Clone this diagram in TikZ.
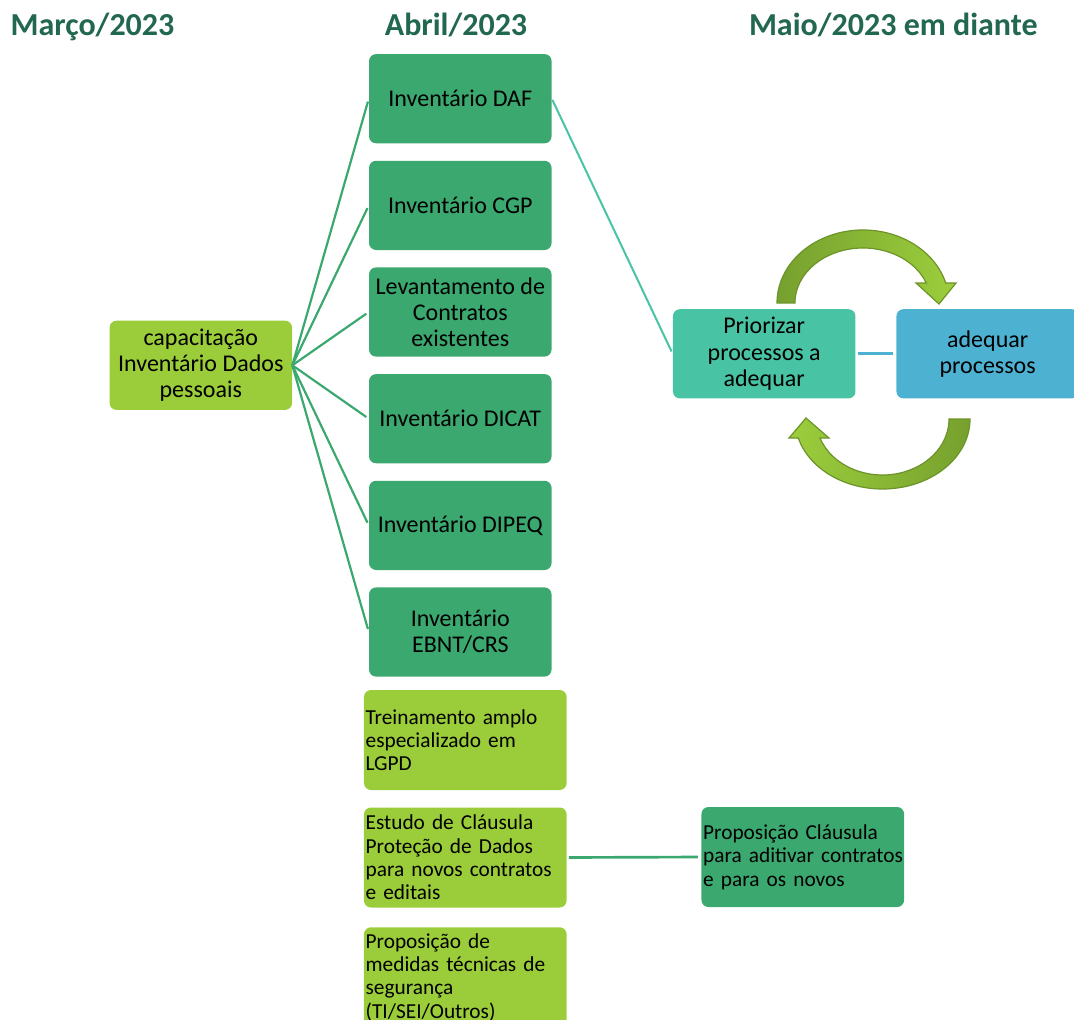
\documentclass[tikz,border=0pt]{standalone}
\usepackage{fontspec}
\setmainfont{Carlito}
\hfuzz=30pt
\definecolor{hdr}{RGB}{34,103,79}
\definecolor{dkgreen}{RGB}{59,168,111}
\definecolor{ltgreen}{RGB}{155,204,58}
\definecolor{tealbox}{RGB}{72,195,164}
\definecolor{bluebox}{RGB}{77,178,210}
\definecolor{arrowdark}{RGB}{118,160,46}
\definecolor{arrowlight}{RGB}{156,206,60}
\definecolor{arrowedge}{RGB}{108,148,40}
\begin{document}
\begin{tikzpicture}[x=0.75pt,y=0.75pt,
  header/.style={anchor=base, text=hdr, font=\bfseries\fontsize{24}{28}\selectfont},
  base/.style={rounded corners=5.25pt, inner sep=0pt, text=black},
  bigbox/.style={base, minimum width=136.9pt, minimum height=66.9pt, align=center,
                 font=\fontsize{18}{19.6}\selectfont},
  smallbox/.style={base, minimum height=75pt, text width=149.5pt, inner xsep=1.25pt,
                   align=left, font=\fontsize{16}{17.5}\selectfont},
  spoke/.style={draw=dkgreen, line width=1.65pt, shorten >=2.25pt},
  cyclearrow/.style={draw=arrowedge, line width=0.9pt}
]
\useasboundingbox (0,0) rectangle (1074,-1020);
\clip (0,0) rectangle (1074,-1020);

% column headers
\node[header] (hdrA) at (92.5,-35.7) {Março/2023};
\node[header] (hdrB) at (456,-35.7) {Abril/2023};
\node[header] (hdrC) at (893.3,-35.7) {Maio/2023 em diante};

% first step
\node[bigbox, fill=ltgreen] (cap) at (200.8,-365.3) {capacitação\\Inventário Dados\\pessoais};

% inventories
\node[bigbox, fill=dkgreen] (daf)   at (460.3,-98.7)  {Inventário DAF};
\node[bigbox, fill=dkgreen] (cgp)   at (460.3,-205.4) {Inventário CGP};
\node[bigbox, fill=dkgreen] (lev)   at (460.3,-312.0) {Levantamento de\\Contratos\\existentes};
\node[bigbox, fill=dkgreen] (dicat) at (460.3,-418.7) {Inventário DICAT};
\node[bigbox, fill=dkgreen] (dipeq) at (460.3,-525.4) {Inventário DIPEQ};
\node[bigbox, fill=dkgreen] (ebnt)  at (460.3,-632.0) {Inventário\\EBNT/CRS};

% spokes from the training box
\foreach \t in {daf,cgp,lev,dicat,dipeq,ebnt}
  \draw[spoke] (cap.east) -- (\t.west);

% process cycle
\node[bigbox, fill=tealbox] (prior) at (764.2,-353.8) {Priorizar\\processos a\\adequar};
\node[bigbox, fill=bluebox] (adeq)  at (987.7,-353.8) {adequar\\processos};

\draw[draw=tealbox, line width=1.5pt, shorten <=1pt, shorten >=2pt] (daf.east) -- (prior.west);
\draw[draw=bluebox, line width=2pt, shorten <=1.5pt, shorten >=2.5pt] (prior.east) -- (adeq.west);

% curved arrows around the cycle
\path[cyclearrow, left color=arrowdark, right color=arrowlight]
  (777,-303) arc[start angle=180, end angle=15.9, x radius=86, y radius=73]
  -- (956,-283) -- (939,-304) -- (916,-283) -- (926.3,-283)
  arc[start angle=21.32, end angle=180, x radius=68, y radius=55] -- cycle;
\path[cyclearrow, left color=arrowlight, right color=arrowdark]
  (970,-419) arc[start angle=0, end angle=-164.25, x radius=87.5, y radius=70]
  -- (789,-438) -- (806,-418) -- (829,-438) -- (819.95,-438)
  arc[start angle=-160.17, end angle=0, x radius=66.5, y radius=56] -- cycle;

% further actions
\node[smallbox, fill=ltgreen] (trein)   at (465.3,-740.0) {Treinamento amplo\\especializado em\\LGPD};
\node[smallbox, fill=ltgreen] (estudo)  at (465.3,-857.5) {Estudo de Cláusula\\Proteção de Dados\\\mbox{para novos contratos}\\e editais};
\node[smallbox, fill=ltgreen] (medidas) at (465.3,-977.3) {Proposição de\\\mbox{medidas técnicas de}\\segurança\\(TI/SEI/Outros)};
\node[smallbox, fill=dkgreen] (propc)   at (802.8,-857.0) {Proposição Cláusula\\\mbox{para aditivar contratos}\\e para os novos};

\draw[draw=dkgreen, line width=2pt, shorten <=1.5pt, shorten >=2.5pt] (estudo.east) -- (propc.west);
\end{tikzpicture}
\end{document}
